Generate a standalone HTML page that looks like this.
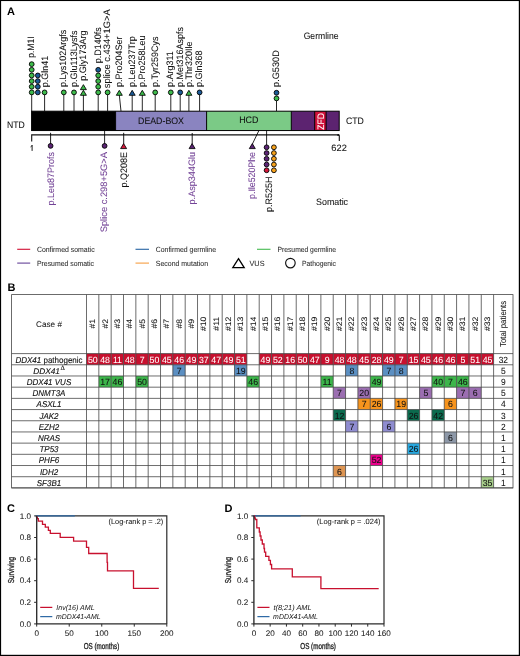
<!DOCTYPE html>
<html><head><meta charset="utf-8"><title>DDX41</title>
<style>
html,body{margin:0;padding:0;background:#fff;}
body{width:520px;height:656px;overflow:hidden;}
svg{display:block;font-family:"Liberation Sans", sans-serif;will-change:transform;} text{stroke-width:0.06px;text-rendering:geometricPrecision;}
</style></head>
<body>
<svg width="520" height="656" viewBox="0 0 520 656">
<rect width="520" height="656" fill="#fff"/>
<rect x="0" y="0" width="520" height="1.05" fill="#000"/>
<rect x="0" y="0" width="1.1" height="656" fill="#000"/>
<rect x="518.8" y="0" width="1.2" height="656" fill="#000"/>
<rect x="0" y="654.8" width="520" height="1.2" fill="#000"/>
<text x="7.0" y="14.8" font-size="11" font-weight="bold" fill="#000">A</text>
<text x="7.6" y="291.2" font-size="11" font-weight="bold" fill="#000">B</text>
<text x="7.0" y="512.2" font-size="11" font-weight="bold" fill="#000">C</text>
<text x="224.5" y="512.2" font-size="11" font-weight="bold" fill="#000">D</text>
<line x1="31.7" y1="93" x2="31.7" y2="111.2" stroke="#000" stroke-width="0.85"/>
<line x1="44.6" y1="93" x2="44.6" y2="111.2" stroke="#000" stroke-width="0.85"/>
<line x1="63.8" y1="93" x2="63.8" y2="111.2" stroke="#000" stroke-width="0.85"/>
<line x1="74" y1="93" x2="74" y2="111.2" stroke="#000" stroke-width="0.85"/>
<line x1="83.4" y1="93" x2="83.4" y2="111.2" stroke="#000" stroke-width="0.85"/>
<line x1="98.2" y1="93" x2="98.2" y2="111.2" stroke="#000" stroke-width="0.85"/>
<line x1="107.6" y1="93" x2="107.6" y2="111.2" stroke="#000" stroke-width="0.85"/>
<line x1="155.2" y1="93" x2="155.2" y2="111.2" stroke="#000" stroke-width="0.85"/>
<line x1="170.8" y1="93" x2="170.8" y2="111.2" stroke="#000" stroke-width="0.85"/>
<line x1="180.2" y1="93" x2="180.2" y2="111.2" stroke="#000" stroke-width="0.85"/>
<line x1="188.9" y1="93" x2="188.9" y2="111.2" stroke="#000" stroke-width="0.85"/>
<line x1="199.6" y1="93" x2="199.6" y2="111.2" stroke="#000" stroke-width="0.85"/>
<line x1="132.2" y1="93" x2="132.2" y2="111.2" stroke="#000" stroke-width="0.85"/>
<line x1="142.3" y1="93" x2="142.3" y2="111.2" stroke="#000" stroke-width="0.85"/>
<line x1="119.3" y1="95" x2="121" y2="111.2" stroke="#000" stroke-width="0.85"/>
<line x1="276.5" y1="99" x2="276.5" y2="111.2" stroke="#000" stroke-width="0.85"/>
<circle cx="31.7" cy="92.4" r="2.4" fill="#3dbb4b" stroke="#000" stroke-width="0.9"/>
<circle cx="31.7" cy="86.75" r="2.4" fill="#3dbb4b" stroke="#000" stroke-width="0.9"/>
<circle cx="31.7" cy="81.1" r="2.4" fill="#3dbb4b" stroke="#000" stroke-width="0.9"/>
<circle cx="31.7" cy="75.45" r="2.4" fill="#3dbb4b" stroke="#000" stroke-width="0.9"/>
<circle cx="31.7" cy="69.8" r="2.4" fill="#3dbb4b" stroke="#000" stroke-width="0.9"/>
<circle cx="31.7" cy="64.15" r="2.4" fill="#3dbb4b" stroke="#000" stroke-width="0.9"/>
<circle cx="37.8" cy="92.4" r="2.4" fill="#1b5a96" stroke="#000" stroke-width="0.9"/>
<circle cx="37.8" cy="86.75" r="2.4" fill="#1b5a96" stroke="#000" stroke-width="0.9"/>
<circle cx="37.8" cy="81.1" r="2.4" fill="#1b5a96" stroke="#000" stroke-width="0.9"/>
<circle cx="37.8" cy="75.45" r="2.4" fill="#1b5a96" stroke="#000" stroke-width="0.9"/>
<circle cx="44.6" cy="92.4" r="2.4" fill="#3dbb4b" stroke="#000" stroke-width="0.9"/>
<circle cx="63.8" cy="92.4" r="2.4" fill="#3dbb4b" stroke="#000" stroke-width="0.9"/>
<circle cx="74" cy="92.4" r="2.4" fill="#3dbb4b" stroke="#000" stroke-width="0.9"/>
<path d="M83.4 90.3L86.4 95.3L80.4 95.3Z" fill="#3dbb4b" stroke="#000" stroke-width="0.85" stroke-linejoin="miter"/>
<path d="M83.4 84.65L86.4 89.65L80.4 89.65Z" fill="#3dbb4b" stroke="#000" stroke-width="0.85" stroke-linejoin="miter"/>
<circle cx="98.2" cy="92.4" r="2.4" fill="#3dbb4b" stroke="#000" stroke-width="0.9"/>
<circle cx="98.2" cy="86.75" r="2.4" fill="#3dbb4b" stroke="#000" stroke-width="0.9"/>
<circle cx="98.2" cy="81.1" r="2.4" fill="#3dbb4b" stroke="#000" stroke-width="0.9"/>
<circle cx="98.2" cy="75.45" r="2.4" fill="#3dbb4b" stroke="#000" stroke-width="0.9"/>
<circle cx="98.2" cy="69.8" r="2.4" fill="#1b5a96" stroke="#000" stroke-width="0.9"/>
<circle cx="107.6" cy="92.4" r="2.4" fill="#3dbb4b" stroke="#000" stroke-width="0.9"/>
<path d="M119.3 90.3L122.3 95.3L116.3 95.3Z" fill="#3dbb4b" stroke="#000" stroke-width="0.85" stroke-linejoin="miter"/>
<path d="M132.2 90.3L135.2 95.3L129.2 95.3Z" fill="#1b5a96" stroke="#000" stroke-width="0.85" stroke-linejoin="miter"/>
<path d="M142.3 90.3L145.3 95.3L139.3 95.3Z" fill="#3dbb4b" stroke="#000" stroke-width="0.85" stroke-linejoin="miter"/>
<circle cx="155.2" cy="92.4" r="2.4" fill="#3dbb4b" stroke="#000" stroke-width="0.9"/>
<circle cx="170.8" cy="92.4" r="2.4" fill="#3dbb4b" stroke="#000" stroke-width="0.9"/>
<circle cx="180.2" cy="92.4" r="2.4" fill="#1b5a96" stroke="#000" stroke-width="0.9"/>
<path d="M188.9 90.3L191.9 95.3L185.9 95.3Z" fill="#3dbb4b" stroke="#000" stroke-width="0.85" stroke-linejoin="miter"/>
<circle cx="199.6" cy="92.4" r="2.4" fill="#1b5a96" stroke="#000" stroke-width="0.9"/>
<circle cx="276.5" cy="98.4" r="2.4" fill="#3dbb4b" stroke="#000" stroke-width="0.9"/>
<circle cx="276.5" cy="92.75" r="2.4" fill="#1b5a96" stroke="#000" stroke-width="0.9"/>
<text transform="translate(34.25 57.8) rotate(-90) scale(0.9096 1)" text-anchor="start" font-size="9.4" fill="#111" stroke="#111">p.M1I</text>
<text transform="translate(48.05 87.3) rotate(-90) scale(0.9574 1)" text-anchor="start" font-size="9.4" fill="#111" stroke="#111">p.Gln41</text>
<text transform="translate(66.45 86.9) rotate(-90) scale(0.9574 1)" text-anchor="start" font-size="9.4" fill="#111" stroke="#111">p.Lys102Argfs</text>
<text transform="translate(76.75 86.9) rotate(-90) scale(0.9574 1)" text-anchor="start" font-size="9.4" fill="#111" stroke="#111">p.Glu113Lysfs</text>
<text transform="translate(86.05 80.8) rotate(-90) scale(0.9670 1)" text-anchor="start" font-size="9.4" fill="#111" stroke="#111">p.Gly173Arg</text>
<text transform="translate(100.85 63.3) rotate(-90) scale(0.9574 1)" text-anchor="start" font-size="9.4" fill="#111" stroke="#111">p.D140fs</text>
<text transform="translate(110.25 88.2) rotate(-90) scale(0.9957 1)" text-anchor="start" font-size="9.4" fill="#111" stroke="#111">splice c.434+1G&gt;A</text>
<text transform="translate(121.85 86.9) rotate(-90) scale(0.9574 1)" text-anchor="start" font-size="9.4" fill="#111" stroke="#111">p.Pro204Ser</text>
<text transform="translate(134.85 86.9) rotate(-90) scale(0.9574 1)" text-anchor="start" font-size="9.4" fill="#111" stroke="#111">p.Leu237Trp</text>
<text transform="translate(144.95 86.9) rotate(-90) scale(0.9574 1)" text-anchor="start" font-size="9.4" fill="#111" stroke="#111">p.Pro258Leu</text>
<text transform="translate(157.85 86.9) rotate(-90) scale(0.9574 1)" text-anchor="start" font-size="9.4" fill="#111" stroke="#111">p.Tyr259Cys</text>
<text transform="translate(173.45 86.9) rotate(-90) scale(0.9574 1)" text-anchor="start" font-size="9.4" fill="#111" stroke="#111">p.Arg311</text>
<text transform="translate(182.85 86.9) rotate(-90) scale(0.9574 1)" text-anchor="start" font-size="9.4" fill="#111" stroke="#111">p.Met316Aspfs</text>
<text transform="translate(191.55 86.9) rotate(-90) scale(0.9574 1)" text-anchor="start" font-size="9.4" fill="#111" stroke="#111">p.Thr320Ile</text>
<text transform="translate(202.25 86.9) rotate(-90) scale(0.9574 1)" text-anchor="start" font-size="9.4" fill="#111" stroke="#111">p.Gln368</text>
<text transform="translate(279.15 86.9) rotate(-90) scale(0.9766 1)" text-anchor="start" font-size="9.4" fill="#111" stroke="#111">p.G530D</text>
<text transform="translate(303.7 38.6) scale(0.9152 1)" text-anchor="start" font-size="9.4" fill="#111" stroke="#111">Germline</text>
<rect x="31.6" y="111.2" width="84" height="19.35000000000001" fill="#000"/>
<rect x="115.6" y="111.2" width="91.0" height="19.35000000000001" fill="#8a84c0"/>
<rect x="206.6" y="111.2" width="84.7" height="19.35000000000001" fill="#7bca86"/>
<rect x="291.3" y="111.2" width="47.9" height="19.35000000000001" fill="#5c2370"/>
<rect x="314.7" y="111.2" width="11.4" height="19.35000000000001" fill="#d0103a"/>
<rect x="31.6" y="111.2" width="307.6" height="19.35" fill="none" stroke="#000" stroke-width="1"/>
<line x1="115.6" y1="111.2" x2="115.6" y2="130.55" stroke="#000" stroke-width="1"/>
<line x1="206.6" y1="111.2" x2="206.6" y2="130.55" stroke="#000" stroke-width="1"/>
<line x1="291.3" y1="111.2" x2="291.3" y2="130.55" stroke="#000" stroke-width="1"/>
<line x1="314.7" y1="111.2" x2="314.7" y2="130.55" stroke="#000" stroke-width="1"/>
<line x1="326.1" y1="111.2" x2="326.1" y2="130.55" stroke="#000" stroke-width="1"/>
<text transform="translate(161 123.6) scale(0.9369 1)" text-anchor="middle" font-size="9.4" fill="#111" stroke="#111">DEAD-BOX</text>
<text transform="translate(248.8 123.4) scale(0.9526 1)" text-anchor="middle" font-size="9.4" fill="#111" stroke="#111">HCD</text>
<text transform="translate(323.7 121.5) rotate(-90) scale(0.9085 1)" text-anchor="middle" font-size="9.4" fill="#fff" stroke="#fff">ZFD</text>
<text transform="translate(6.9 127.7) scale(0.9214 1)" text-anchor="start" font-size="9.4" fill="#111" stroke="#111">NTD</text>
<text transform="translate(345.9 124.2) scale(0.9266 1)" text-anchor="start" font-size="9.4" fill="#111" stroke="#111">CTD</text>
<path d="M31.7 141.5V134.9H338.4Q339.3 134.9 339.3 135.8V141" fill="none" stroke="#111" stroke-width="1.1"/>
<circle cx="338.2" cy="135.1" r="1.0" fill="#111"/>
<path d="M30.6 146.9Q31.7 146.5 32.1 145.2V150.9" fill="none" stroke="#111" stroke-width="0.95"/>
<text transform="translate(339.1 151) scale(0.9883 1)" text-anchor="middle" font-size="9.4" fill="#111" stroke="#111">622</text>
<path d="M50.6 133.2V144M123.7 133.2V144M192.2 133.4V144" stroke="#000" stroke-width="0.9" stroke-linecap="round" fill="none"/>
<line x1="104.6" y1="130.55" x2="104.6" y2="144" stroke="#000" stroke-width="0.85"/>
<line x1="258.9" y1="130.55" x2="252.4" y2="144" stroke="#000" stroke-width="0.85"/>
<line x1="266.6" y1="130.55" x2="266.6" y2="146" stroke="#000" stroke-width="0.85"/>
<circle cx="50.6" cy="145.9" r="2.4" fill="#5b2474" stroke="#000" stroke-width="0.9"/>
<circle cx="104.6" cy="145.9" r="2.4" fill="#5b2474" stroke="#000" stroke-width="0.9"/>
<path d="M123.6 143.6L126.6 148.6L120.6 148.6Z" fill="#d3173a" stroke="#000" stroke-width="0.85" stroke-linejoin="miter"/>
<path d="M192.1 143.6L195.1 148.6L189.1 148.6Z" fill="#5b2474" stroke="#000" stroke-width="0.85" stroke-linejoin="miter"/>
<path d="M252.3 143.6L255.3 148.6L249.3 148.6Z" fill="#5b2474" stroke="#000" stroke-width="0.85" stroke-linejoin="miter"/>
<circle cx="266.6" cy="147.3" r="2.4" fill="#5b2474" stroke="#000" stroke-width="0.9"/>
<circle cx="273.9" cy="147.3" r="2.4" fill="#f7a21b" stroke="#000" stroke-width="0.9"/>
<circle cx="266.6" cy="153.05" r="2.4" fill="#5b2474" stroke="#000" stroke-width="0.9"/>
<circle cx="273.9" cy="153.05" r="2.4" fill="#f7a21b" stroke="#000" stroke-width="0.9"/>
<circle cx="266.6" cy="158.8" r="2.4" fill="#5b2474" stroke="#000" stroke-width="0.9"/>
<circle cx="273.9" cy="158.8" r="2.4" fill="#f7a21b" stroke="#000" stroke-width="0.9"/>
<circle cx="266.6" cy="164.55" r="2.4" fill="#5b2474" stroke="#000" stroke-width="0.9"/>
<circle cx="273.9" cy="164.55" r="2.4" fill="#f7a21b" stroke="#000" stroke-width="0.9"/>
<circle cx="266.6" cy="170.3" r="2.4" fill="#d3173a" stroke="#000" stroke-width="0.9"/>
<circle cx="273.9" cy="170.3" r="2.4" fill="#f7a21b" stroke="#000" stroke-width="0.9"/>
<text transform="translate(54.45 152) rotate(-90) scale(0.9574 1)" text-anchor="end" font-size="9.4" fill="#744497" stroke="#744497">p.Leu87Profs</text>
<text transform="translate(107.35 152) rotate(-90) scale(0.9938 1)" text-anchor="end" font-size="9.4" fill="#744497" stroke="#744497">Splice c.298+5G&gt;A</text>
<text transform="translate(127.45 152) rotate(-90) scale(0.9574 1)" text-anchor="end" font-size="9.4" fill="#111" stroke="#111">p.Q208E</text>
<text transform="translate(195.05 152) rotate(-90) scale(0.9670 1)" text-anchor="end" font-size="9.4" fill="#744497" stroke="#744497">p.Asp344Glu</text>
<text transform="translate(254.85 152) rotate(-90) scale(0.9383 1)" text-anchor="end" font-size="9.4" fill="#744497" stroke="#744497">p.Ile520Phe</text>
<text transform="translate(271.65 176.6) rotate(-90) scale(0.9574 1)" text-anchor="end" font-size="9.4" fill="#111" stroke="#111">p.R525H</text>
<text transform="translate(316.1 205) scale(0.9424 1)" text-anchor="start" font-size="9.4" fill="#111" stroke="#111">Somatic</text>
<line x1="17.2" y1="249.3" x2="30.2" y2="249.3" stroke="#d3173a" stroke-width="1.15"/>
<line x1="17.2" y1="263.1" x2="30.2" y2="263.1" stroke="#6c4a9c" stroke-width="1.15"/>
<line x1="135.5" y1="249.3" x2="149" y2="249.3" stroke="#2f6aa6" stroke-width="1.15"/>
<line x1="135.5" y1="263.1" x2="149" y2="263.1" stroke="#f7a24a" stroke-width="1.15"/>
<line x1="257" y1="249.3" x2="270.5" y2="249.3" stroke="#4cbd57" stroke-width="1.15"/>
<text transform="translate(36.9 252) scale(0.9229 1)" text-anchor="start" font-size="7.5" fill="#2a2a2a" stroke="#2a2a2a" style="stroke-width:0.06px">Confirmed somatic</text>
<text transform="translate(36.9 265.8) scale(0.9194 1)" text-anchor="start" font-size="7.5" fill="#2a2a2a" stroke="#2a2a2a" style="stroke-width:0.06px">Presumed somatic</text>
<text transform="translate(155.8 252) scale(0.9199 1)" text-anchor="start" font-size="7.5" fill="#2a2a2a" stroke="#2a2a2a" style="stroke-width:0.06px">Confirmed germline</text>
<text transform="translate(155.8 265.8) scale(0.9274 1)" text-anchor="start" font-size="7.5" fill="#2a2a2a" stroke="#2a2a2a" style="stroke-width:0.06px">Second mutation</text>
<text transform="translate(277.5 252) scale(0.8996 1)" text-anchor="start" font-size="7.5" fill="#2a2a2a" stroke="#2a2a2a" style="stroke-width:0.06px">Presumed germline</text>
<path d="M238.5 258.6L244.2 267.6H232.8Z" fill="none" stroke="#000" stroke-width="1.3" stroke-linejoin="miter"/>
<text transform="translate(249.5 265.8) scale(0.9727 1)" text-anchor="start" font-size="7.5" fill="#2a2a2a" stroke="#2a2a2a" style="stroke-width:0.06px">VUS</text>
<circle cx="290.4" cy="263.1" r="4.8" fill="none" stroke="#111" stroke-width="1.15"/>
<text transform="translate(302 265.8) scale(0.9060 1)" text-anchor="start" font-size="7.5" fill="#2a2a2a" stroke="#2a2a2a" style="stroke-width:0.06px">Pathogenic</text>
<rect x="86.5" y="353.6" width="12.34" height="11.19" fill="#c8102e"/>
<rect x="98.84" y="353.6" width="12.34" height="11.19" fill="#c8102e"/>
<rect x="111.17" y="353.6" width="12.34" height="11.19" fill="#c8102e"/>
<rect x="123.51" y="353.6" width="12.34" height="11.19" fill="#c8102e"/>
<rect x="135.85" y="353.6" width="12.34" height="11.19" fill="#c8102e"/>
<rect x="148.18" y="353.6" width="12.34" height="11.19" fill="#c8102e"/>
<rect x="160.52" y="353.6" width="12.34" height="11.19" fill="#c8102e"/>
<rect x="172.85" y="353.6" width="12.34" height="11.19" fill="#c8102e"/>
<rect x="185.19" y="353.6" width="12.34" height="11.19" fill="#c8102e"/>
<rect x="197.53" y="353.6" width="12.34" height="11.19" fill="#c8102e"/>
<rect x="209.86" y="353.6" width="12.34" height="11.19" fill="#c8102e"/>
<rect x="222.2" y="353.6" width="12.34" height="11.19" fill="#c8102e"/>
<rect x="234.54" y="353.6" width="12.34" height="11.19" fill="#c8102e"/>
<rect x="259.21" y="353.6" width="12.34" height="11.19" fill="#c8102e"/>
<rect x="271.55" y="353.6" width="12.34" height="11.19" fill="#c8102e"/>
<rect x="283.88" y="353.6" width="12.34" height="11.19" fill="#c8102e"/>
<rect x="296.22" y="353.6" width="12.34" height="11.19" fill="#c8102e"/>
<rect x="308.55" y="353.6" width="12.34" height="11.19" fill="#c8102e"/>
<rect x="320.89" y="353.6" width="12.34" height="11.19" fill="#c8102e"/>
<rect x="333.23" y="353.6" width="12.34" height="11.19" fill="#c8102e"/>
<rect x="345.56" y="353.6" width="12.34" height="11.19" fill="#c8102e"/>
<rect x="357.9" y="353.6" width="12.34" height="11.19" fill="#c8102e"/>
<rect x="370.24" y="353.6" width="12.34" height="11.19" fill="#c8102e"/>
<rect x="382.57" y="353.6" width="12.34" height="11.19" fill="#c8102e"/>
<rect x="394.91" y="353.6" width="12.34" height="11.19" fill="#c8102e"/>
<rect x="407.25" y="353.6" width="12.34" height="11.19" fill="#c8102e"/>
<rect x="419.58" y="353.6" width="12.34" height="11.19" fill="#c8102e"/>
<rect x="431.92" y="353.6" width="12.34" height="11.19" fill="#c8102e"/>
<rect x="444.25" y="353.6" width="12.34" height="11.19" fill="#c8102e"/>
<rect x="456.59" y="353.6" width="12.34" height="11.19" fill="#c8102e"/>
<rect x="468.93" y="353.6" width="12.34" height="11.19" fill="#c8102e"/>
<rect x="481.26" y="353.6" width="12.34" height="11.19" fill="#c8102e"/>
<rect x="172.85" y="364.79" width="12.34" height="11.19" fill="#5b8fc2"/>
<rect x="234.54" y="364.79" width="12.34" height="11.19" fill="#5b8fc2"/>
<rect x="345.56" y="364.79" width="12.34" height="11.19" fill="#5b8fc2"/>
<rect x="382.57" y="364.79" width="12.34" height="11.19" fill="#5b8fc2"/>
<rect x="394.91" y="364.79" width="12.34" height="11.19" fill="#5b8fc2"/>
<rect x="98.84" y="375.98" width="12.34" height="11.19" fill="#3cb54a"/>
<rect x="111.17" y="375.98" width="12.34" height="11.19" fill="#3cb54a"/>
<rect x="135.85" y="375.98" width="12.34" height="11.19" fill="#3cb54a"/>
<rect x="246.87" y="375.98" width="12.34" height="11.19" fill="#3cb54a"/>
<rect x="320.89" y="375.98" width="12.34" height="11.19" fill="#3cb54a"/>
<rect x="370.24" y="375.98" width="12.34" height="11.19" fill="#3cb54a"/>
<rect x="431.92" y="375.98" width="12.34" height="11.19" fill="#3cb54a"/>
<rect x="444.25" y="375.98" width="12.34" height="11.19" fill="#3cb54a"/>
<rect x="456.59" y="375.98" width="12.34" height="11.19" fill="#3cb54a"/>
<rect x="333.23" y="387.18" width="12.34" height="11.19" fill="#9b6eb1"/>
<rect x="357.9" y="387.18" width="12.34" height="11.19" fill="#9b6eb1"/>
<rect x="419.58" y="387.18" width="12.34" height="11.19" fill="#9b6eb1"/>
<rect x="456.59" y="387.18" width="12.34" height="11.19" fill="#9b6eb1"/>
<rect x="468.93" y="387.18" width="12.34" height="11.19" fill="#9b6eb1"/>
<rect x="357.9" y="398.37" width="12.34" height="11.19" fill="#f7941d"/>
<rect x="370.24" y="398.37" width="12.34" height="11.19" fill="#f7941d"/>
<rect x="394.91" y="398.37" width="12.34" height="11.19" fill="#f7941d"/>
<rect x="444.25" y="398.37" width="12.34" height="11.19" fill="#f7941d"/>
<rect x="333.23" y="409.56" width="12.34" height="11.19" fill="#0b6b4e"/>
<rect x="407.25" y="409.56" width="12.34" height="11.19" fill="#0b6b4e"/>
<rect x="431.92" y="409.56" width="12.34" height="11.19" fill="#0b6b4e"/>
<rect x="345.56" y="420.75" width="12.34" height="11.19" fill="#8f8cd0"/>
<rect x="382.57" y="420.75" width="12.34" height="11.19" fill="#8f8cd0"/>
<rect x="444.25" y="431.94" width="12.34" height="11.19" fill="#8d98a8"/>
<rect x="407.25" y="443.13" width="12.34" height="11.19" fill="#27a8e0"/>
<rect x="370.24" y="454.32" width="12.34" height="11.19" fill="#ec008c"/>
<rect x="333.23" y="465.52" width="12.34" height="11.19" fill="#de9552"/>
<rect x="481.26" y="476.71" width="12.34" height="11.19" fill="#a8cf8c"/>
<line x1="11.6" y1="353.6" x2="513" y2="353.6" stroke="#484848" stroke-width="0.8"/>
<line x1="11.6" y1="364.79" x2="513" y2="364.79" stroke="#484848" stroke-width="0.8"/>
<line x1="11.6" y1="375.98" x2="513" y2="375.98" stroke="#484848" stroke-width="0.8"/>
<line x1="11.6" y1="387.18" x2="513" y2="387.18" stroke="#484848" stroke-width="0.8"/>
<line x1="11.6" y1="398.37" x2="513" y2="398.37" stroke="#484848" stroke-width="0.8"/>
<line x1="11.6" y1="409.56" x2="513" y2="409.56" stroke="#484848" stroke-width="0.8"/>
<line x1="11.6" y1="420.75" x2="513" y2="420.75" stroke="#484848" stroke-width="0.8"/>
<line x1="11.6" y1="431.94" x2="513" y2="431.94" stroke="#484848" stroke-width="0.8"/>
<line x1="11.6" y1="443.13" x2="513" y2="443.13" stroke="#484848" stroke-width="0.8"/>
<line x1="11.6" y1="454.32" x2="513" y2="454.32" stroke="#484848" stroke-width="0.8"/>
<line x1="11.6" y1="465.52" x2="513" y2="465.52" stroke="#484848" stroke-width="0.8"/>
<line x1="11.6" y1="476.71" x2="513" y2="476.71" stroke="#484848" stroke-width="0.8"/>
<line x1="11.6" y1="487.9" x2="513" y2="487.9" stroke="#484848" stroke-width="0.8"/>
<line x1="86.5" y1="294.6" x2="86.5" y2="487.9" stroke="#484848" stroke-width="0.8"/>
<line x1="98.84" y1="294.6" x2="98.84" y2="487.9" stroke="#484848" stroke-width="0.8"/>
<line x1="111.17" y1="294.6" x2="111.17" y2="487.9" stroke="#484848" stroke-width="0.8"/>
<line x1="123.51" y1="294.6" x2="123.51" y2="487.9" stroke="#484848" stroke-width="0.8"/>
<line x1="135.85" y1="294.6" x2="135.85" y2="487.9" stroke="#484848" stroke-width="0.8"/>
<line x1="148.18" y1="294.6" x2="148.18" y2="487.9" stroke="#484848" stroke-width="0.8"/>
<line x1="160.52" y1="294.6" x2="160.52" y2="487.9" stroke="#484848" stroke-width="0.8"/>
<line x1="172.85" y1="294.6" x2="172.85" y2="487.9" stroke="#484848" stroke-width="0.8"/>
<line x1="185.19" y1="294.6" x2="185.19" y2="487.9" stroke="#484848" stroke-width="0.8"/>
<line x1="197.53" y1="294.6" x2="197.53" y2="487.9" stroke="#484848" stroke-width="0.8"/>
<line x1="209.86" y1="294.6" x2="209.86" y2="487.9" stroke="#484848" stroke-width="0.8"/>
<line x1="222.2" y1="294.6" x2="222.2" y2="487.9" stroke="#484848" stroke-width="0.8"/>
<line x1="234.54" y1="294.6" x2="234.54" y2="487.9" stroke="#484848" stroke-width="0.8"/>
<line x1="246.87" y1="294.6" x2="246.87" y2="487.9" stroke="#484848" stroke-width="0.8"/>
<line x1="259.21" y1="294.6" x2="259.21" y2="487.9" stroke="#484848" stroke-width="0.8"/>
<line x1="271.55" y1="294.6" x2="271.55" y2="487.9" stroke="#484848" stroke-width="0.8"/>
<line x1="283.88" y1="294.6" x2="283.88" y2="487.9" stroke="#484848" stroke-width="0.8"/>
<line x1="296.22" y1="294.6" x2="296.22" y2="487.9" stroke="#484848" stroke-width="0.8"/>
<line x1="308.55" y1="294.6" x2="308.55" y2="487.9" stroke="#484848" stroke-width="0.8"/>
<line x1="320.89" y1="294.6" x2="320.89" y2="487.9" stroke="#484848" stroke-width="0.8"/>
<line x1="333.23" y1="294.6" x2="333.23" y2="487.9" stroke="#484848" stroke-width="0.8"/>
<line x1="345.56" y1="294.6" x2="345.56" y2="487.9" stroke="#484848" stroke-width="0.8"/>
<line x1="357.9" y1="294.6" x2="357.9" y2="487.9" stroke="#484848" stroke-width="0.8"/>
<line x1="370.24" y1="294.6" x2="370.24" y2="487.9" stroke="#484848" stroke-width="0.8"/>
<line x1="382.57" y1="294.6" x2="382.57" y2="487.9" stroke="#484848" stroke-width="0.8"/>
<line x1="394.91" y1="294.6" x2="394.91" y2="487.9" stroke="#484848" stroke-width="0.8"/>
<line x1="407.25" y1="294.6" x2="407.25" y2="487.9" stroke="#484848" stroke-width="0.8"/>
<line x1="419.58" y1="294.6" x2="419.58" y2="487.9" stroke="#484848" stroke-width="0.8"/>
<line x1="431.92" y1="294.6" x2="431.92" y2="487.9" stroke="#484848" stroke-width="0.8"/>
<line x1="444.25" y1="294.6" x2="444.25" y2="487.9" stroke="#484848" stroke-width="0.8"/>
<line x1="456.59" y1="294.6" x2="456.59" y2="487.9" stroke="#484848" stroke-width="0.8"/>
<line x1="468.93" y1="294.6" x2="468.93" y2="487.9" stroke="#484848" stroke-width="0.8"/>
<line x1="481.26" y1="294.6" x2="481.26" y2="487.9" stroke="#484848" stroke-width="0.8"/>
<line x1="493.6" y1="294.6" x2="493.6" y2="487.9" stroke="#484848" stroke-width="0.8"/>
<rect x="11.6" y="294.6" width="501.4" height="193.3" fill="none" stroke="#484848" stroke-width="0.8"/>
<text transform="translate(49 362.6) scale(0.9412 1)" text-anchor="middle" font-size="8.5" fill="#111" stroke="#111" style="stroke-width:0.12px"><tspan font-style="italic">DDX41</tspan> pathogenic</text>
<text transform="translate(92.77 362.6) scale(0.9722 1)" text-anchor="middle" font-size="9.0" fill="#fff" stroke="#fff">50</text>
<text transform="translate(105.1 362.6) scale(0.9722 1)" text-anchor="middle" font-size="9.0" fill="#fff" stroke="#fff">48</text>
<text transform="translate(117.44 362.6) scale(0.9722 1)" text-anchor="middle" font-size="9.0" fill="#fff" stroke="#fff">11</text>
<text transform="translate(129.78 362.6) scale(0.9722 1)" text-anchor="middle" font-size="9.0" fill="#fff" stroke="#fff">48</text>
<text transform="translate(142.11 362.6) scale(0.9722 1)" text-anchor="middle" font-size="9.0" fill="#fff" stroke="#fff">7</text>
<text transform="translate(154.45 362.6) scale(0.9722 1)" text-anchor="middle" font-size="9.0" fill="#fff" stroke="#fff">50</text>
<text transform="translate(166.79 362.6) scale(0.9722 1)" text-anchor="middle" font-size="9.0" fill="#fff" stroke="#fff">45</text>
<text transform="translate(179.12 362.6) scale(0.9722 1)" text-anchor="middle" font-size="9.0" fill="#fff" stroke="#fff">46</text>
<text transform="translate(191.46 362.6) scale(0.9722 1)" text-anchor="middle" font-size="9.0" fill="#fff" stroke="#fff">49</text>
<text transform="translate(203.8 362.6) scale(0.9722 1)" text-anchor="middle" font-size="9.0" fill="#fff" stroke="#fff">37</text>
<text transform="translate(216.13 362.6) scale(0.9722 1)" text-anchor="middle" font-size="9.0" fill="#fff" stroke="#fff">47</text>
<text transform="translate(228.47 362.6) scale(0.9722 1)" text-anchor="middle" font-size="9.0" fill="#fff" stroke="#fff">49</text>
<text transform="translate(240.8 362.6) scale(0.9722 1)" text-anchor="middle" font-size="9.0" fill="#fff" stroke="#fff">51</text>
<text transform="translate(265.48 362.6) scale(0.9722 1)" text-anchor="middle" font-size="9.0" fill="#fff" stroke="#fff">49</text>
<text transform="translate(277.81 362.6) scale(0.9722 1)" text-anchor="middle" font-size="9.0" fill="#fff" stroke="#fff">52</text>
<text transform="translate(290.15 362.6) scale(0.9722 1)" text-anchor="middle" font-size="9.0" fill="#fff" stroke="#fff">16</text>
<text transform="translate(302.49 362.6) scale(0.9722 1)" text-anchor="middle" font-size="9.0" fill="#fff" stroke="#fff">50</text>
<text transform="translate(314.82 362.6) scale(0.9722 1)" text-anchor="middle" font-size="9.0" fill="#fff" stroke="#fff">47</text>
<text transform="translate(327.16 362.6) scale(0.9722 1)" text-anchor="middle" font-size="9.0" fill="#fff" stroke="#fff">9</text>
<text transform="translate(339.5 362.6) scale(0.9722 1)" text-anchor="middle" font-size="9.0" fill="#fff" stroke="#fff">48</text>
<text transform="translate(351.83 362.6) scale(0.9722 1)" text-anchor="middle" font-size="9.0" fill="#fff" stroke="#fff">48</text>
<text transform="translate(364.17 362.6) scale(0.9722 1)" text-anchor="middle" font-size="9.0" fill="#fff" stroke="#fff">45</text>
<text transform="translate(376.5 362.6) scale(0.9722 1)" text-anchor="middle" font-size="9.0" fill="#fff" stroke="#fff">28</text>
<text transform="translate(388.84 362.6) scale(0.9722 1)" text-anchor="middle" font-size="9.0" fill="#fff" stroke="#fff">49</text>
<text transform="translate(401.18 362.6) scale(0.9722 1)" text-anchor="middle" font-size="9.0" fill="#fff" stroke="#fff">7</text>
<text transform="translate(413.51 362.6) scale(0.9722 1)" text-anchor="middle" font-size="9.0" fill="#fff" stroke="#fff">15</text>
<text transform="translate(425.85 362.6) scale(0.9722 1)" text-anchor="middle" font-size="9.0" fill="#fff" stroke="#fff">45</text>
<text transform="translate(438.19 362.6) scale(0.9722 1)" text-anchor="middle" font-size="9.0" fill="#fff" stroke="#fff">46</text>
<text transform="translate(450.52 362.6) scale(0.9722 1)" text-anchor="middle" font-size="9.0" fill="#fff" stroke="#fff">46</text>
<text transform="translate(462.86 362.6) scale(0.9722 1)" text-anchor="middle" font-size="9.0" fill="#fff" stroke="#fff">5</text>
<text transform="translate(475.2 362.6) scale(0.9722 1)" text-anchor="middle" font-size="9.0" fill="#fff" stroke="#fff">51</text>
<text transform="translate(487.53 362.6) scale(0.9722 1)" text-anchor="middle" font-size="9.0" fill="#fff" stroke="#fff">45</text>
<text transform="translate(503.3 362.6) scale(0.9333 1)" text-anchor="middle" font-size="9.0" fill="#111" stroke="#111">32</text>
<text x="49" y="373.79" text-anchor="middle" font-size="8.3" fill="#111" stroke="#111" style="stroke-width:0.12px"><tspan font-style="italic">DDX41</tspan><tspan font-size="6.8" dy="-4.0" dx="0.5" font-family="Liberation Serif" font-style="normal">&#916;</tspan></text>
<text transform="translate(179.12 373.79) scale(0.9722 1)" text-anchor="middle" font-size="9.0" fill="#111" stroke="#111">7</text>
<text transform="translate(240.8 373.79) scale(0.9722 1)" text-anchor="middle" font-size="9.0" fill="#111" stroke="#111">19</text>
<text transform="translate(351.83 373.79) scale(0.9722 1)" text-anchor="middle" font-size="9.0" fill="#111" stroke="#111">8</text>
<text transform="translate(388.84 373.79) scale(0.9722 1)" text-anchor="middle" font-size="9.0" fill="#111" stroke="#111">7</text>
<text transform="translate(401.18 373.79) scale(0.9722 1)" text-anchor="middle" font-size="9.0" fill="#111" stroke="#111">8</text>
<text transform="translate(503.3 373.79) scale(0.9333 1)" text-anchor="middle" font-size="9.0" fill="#111" stroke="#111">5</text>
<text transform="translate(49 384.98) scale(0.9412 1)" text-anchor="middle" font-size="8.5" fill="#111" stroke="#111" style="stroke-width:0.12px"><tspan font-style="italic">DDX41 VUS</tspan></text>
<text transform="translate(105.1 384.98) scale(0.9722 1)" text-anchor="middle" font-size="9.0" fill="#111" stroke="#111">17</text>
<text transform="translate(117.44 384.98) scale(0.9722 1)" text-anchor="middle" font-size="9.0" fill="#111" stroke="#111">46</text>
<text transform="translate(142.11 384.98) scale(0.9722 1)" text-anchor="middle" font-size="9.0" fill="#111" stroke="#111">50</text>
<text transform="translate(253.14 384.98) scale(0.9722 1)" text-anchor="middle" font-size="9.0" fill="#111" stroke="#111">46</text>
<text transform="translate(327.16 384.98) scale(0.9722 1)" text-anchor="middle" font-size="9.0" fill="#111" stroke="#111">11</text>
<text transform="translate(376.5 384.98) scale(0.9722 1)" text-anchor="middle" font-size="9.0" fill="#111" stroke="#111">49</text>
<text transform="translate(438.19 384.98) scale(0.9722 1)" text-anchor="middle" font-size="9.0" fill="#111" stroke="#111">40</text>
<text transform="translate(450.52 384.98) scale(0.9722 1)" text-anchor="middle" font-size="9.0" fill="#111" stroke="#111">7</text>
<text transform="translate(462.86 384.98) scale(0.9722 1)" text-anchor="middle" font-size="9.0" fill="#111" stroke="#111">46</text>
<text transform="translate(503.3 384.98) scale(0.9333 1)" text-anchor="middle" font-size="9.0" fill="#111" stroke="#111">9</text>
<text transform="translate(49 396.17) scale(0.9412 1)" text-anchor="middle" font-size="8.5" fill="#111" stroke="#111" style="stroke-width:0.12px"><tspan font-style="italic">DNMT3A</tspan></text>
<text transform="translate(339.5 396.17) scale(0.9722 1)" text-anchor="middle" font-size="9.0" fill="#111" stroke="#111">7</text>
<text transform="translate(364.17 396.17) scale(0.9722 1)" text-anchor="middle" font-size="9.0" fill="#111" stroke="#111">20</text>
<text transform="translate(425.85 396.17) scale(0.9722 1)" text-anchor="middle" font-size="9.0" fill="#111" stroke="#111">5</text>
<text transform="translate(462.86 396.17) scale(0.9722 1)" text-anchor="middle" font-size="9.0" fill="#111" stroke="#111">7</text>
<text transform="translate(475.2 396.17) scale(0.9722 1)" text-anchor="middle" font-size="9.0" fill="#111" stroke="#111">6</text>
<text transform="translate(503.3 396.17) scale(0.9333 1)" text-anchor="middle" font-size="9.0" fill="#111" stroke="#111">5</text>
<text transform="translate(49 407.36) scale(0.9412 1)" text-anchor="middle" font-size="8.5" fill="#111" stroke="#111" style="stroke-width:0.12px"><tspan font-style="italic">ASXL1</tspan></text>
<text transform="translate(364.17 407.36) scale(0.9722 1)" text-anchor="middle" font-size="9.0" fill="#111" stroke="#111">7</text>
<text transform="translate(376.5 407.36) scale(0.9722 1)" text-anchor="middle" font-size="9.0" fill="#111" stroke="#111">26</text>
<text transform="translate(401.18 407.36) scale(0.9722 1)" text-anchor="middle" font-size="9.0" fill="#111" stroke="#111">19</text>
<text transform="translate(450.52 407.36) scale(0.9722 1)" text-anchor="middle" font-size="9.0" fill="#111" stroke="#111">6</text>
<text transform="translate(503.3 407.36) scale(0.9333 1)" text-anchor="middle" font-size="9.0" fill="#111" stroke="#111">4</text>
<text transform="translate(49 418.55) scale(0.9412 1)" text-anchor="middle" font-size="8.5" fill="#111" stroke="#111" style="stroke-width:0.12px"><tspan font-style="italic">JAK2</tspan></text>
<text transform="translate(339.5 418.55) scale(0.9722 1)" text-anchor="middle" font-size="9.0" fill="#111" stroke="#111">12</text>
<text transform="translate(413.51 418.55) scale(0.9722 1)" text-anchor="middle" font-size="9.0" fill="#111" stroke="#111">26</text>
<text transform="translate(438.19 418.55) scale(0.9722 1)" text-anchor="middle" font-size="9.0" fill="#111" stroke="#111">42</text>
<text transform="translate(503.3 418.55) scale(0.9333 1)" text-anchor="middle" font-size="9.0" fill="#111" stroke="#111">3</text>
<text transform="translate(49 429.75) scale(0.9412 1)" text-anchor="middle" font-size="8.5" fill="#111" stroke="#111" style="stroke-width:0.12px"><tspan font-style="italic">EZH2</tspan></text>
<text transform="translate(351.83 429.75) scale(0.9722 1)" text-anchor="middle" font-size="9.0" fill="#111" stroke="#111">7</text>
<text transform="translate(388.84 429.75) scale(0.9722 1)" text-anchor="middle" font-size="9.0" fill="#111" stroke="#111">6</text>
<text transform="translate(503.3 429.75) scale(0.9333 1)" text-anchor="middle" font-size="9.0" fill="#111" stroke="#111">2</text>
<text transform="translate(49 440.94) scale(0.9412 1)" text-anchor="middle" font-size="8.5" fill="#111" stroke="#111" style="stroke-width:0.12px"><tspan font-style="italic">NRAS</tspan></text>
<text transform="translate(450.52 440.94) scale(0.9722 1)" text-anchor="middle" font-size="9.0" fill="#111" stroke="#111">6</text>
<text transform="translate(503.3 440.94) scale(0.9333 1)" text-anchor="middle" font-size="9.0" fill="#111" stroke="#111">1</text>
<text transform="translate(49 452.13) scale(0.9412 1)" text-anchor="middle" font-size="8.5" fill="#111" stroke="#111" style="stroke-width:0.12px"><tspan font-style="italic">TP53</tspan></text>
<text transform="translate(413.51 452.13) scale(0.9722 1)" text-anchor="middle" font-size="9.0" fill="#111" stroke="#111">26</text>
<text transform="translate(503.3 452.13) scale(0.9333 1)" text-anchor="middle" font-size="9.0" fill="#111" stroke="#111">1</text>
<text transform="translate(49 463.32) scale(0.9412 1)" text-anchor="middle" font-size="8.5" fill="#111" stroke="#111" style="stroke-width:0.12px"><tspan font-style="italic">PHF6</tspan></text>
<text transform="translate(376.5 463.32) scale(0.9722 1)" text-anchor="middle" font-size="9.0" fill="#111" stroke="#111">52</text>
<text transform="translate(503.3 463.32) scale(0.9333 1)" text-anchor="middle" font-size="9.0" fill="#111" stroke="#111">1</text>
<text transform="translate(49 474.51) scale(0.9412 1)" text-anchor="middle" font-size="8.5" fill="#111" stroke="#111" style="stroke-width:0.12px"><tspan font-style="italic">IDH2</tspan></text>
<text transform="translate(339.5 474.51) scale(0.9722 1)" text-anchor="middle" font-size="9.0" fill="#111" stroke="#111">6</text>
<text transform="translate(503.3 474.51) scale(0.9333 1)" text-anchor="middle" font-size="9.0" fill="#111" stroke="#111">1</text>
<text transform="translate(49 485.7) scale(0.9412 1)" text-anchor="middle" font-size="8.5" fill="#111" stroke="#111" style="stroke-width:0.12px"><tspan font-style="italic">SF3B1</tspan></text>
<text transform="translate(487.53 485.7) scale(0.9722 1)" text-anchor="middle" font-size="9.0" fill="#111" stroke="#111">35</text>
<text transform="translate(503.3 485.7) scale(0.9333 1)" text-anchor="middle" font-size="9.0" fill="#111" stroke="#111">1</text>
<text x="49" y="326.6" text-anchor="middle" font-size="8.2" fill="#111" stroke="#111" style="stroke-width:0.03px">Case #</text>
<text transform="translate(95.37 323.8) rotate(-90) scale(1.0750 1)" text-anchor="middle" font-size="8.0" fill="#111" stroke="#111">#1</text>
<text transform="translate(107.7 323.8) rotate(-90) scale(1.0750 1)" text-anchor="middle" font-size="8.0" fill="#111" stroke="#111">#2</text>
<text transform="translate(120.04 323.8) rotate(-90) scale(1.0750 1)" text-anchor="middle" font-size="8.0" fill="#111" stroke="#111">#3</text>
<text transform="translate(132.38 323.8) rotate(-90) scale(1.0750 1)" text-anchor="middle" font-size="8.0" fill="#111" stroke="#111">#4</text>
<text transform="translate(144.71 323.8) rotate(-90) scale(1.0750 1)" text-anchor="middle" font-size="8.0" fill="#111" stroke="#111">#5</text>
<text transform="translate(157.05 323.8) rotate(-90) scale(1.0750 1)" text-anchor="middle" font-size="8.0" fill="#111" stroke="#111">#6</text>
<text transform="translate(169.39 323.8) rotate(-90) scale(1.0750 1)" text-anchor="middle" font-size="8.0" fill="#111" stroke="#111">#7</text>
<text transform="translate(181.72 323.8) rotate(-90) scale(1.0750 1)" text-anchor="middle" font-size="8.0" fill="#111" stroke="#111">#8</text>
<text transform="translate(194.06 323.8) rotate(-90) scale(1.0750 1)" text-anchor="middle" font-size="8.0" fill="#111" stroke="#111">#9</text>
<text transform="translate(206.4 323.8) rotate(-90) scale(1.0750 1)" text-anchor="middle" font-size="8.0" fill="#111" stroke="#111">#10</text>
<text transform="translate(218.73 323.8) rotate(-90) scale(1.0750 1)" text-anchor="middle" font-size="8.0" fill="#111" stroke="#111">#11</text>
<text transform="translate(231.07 323.8) rotate(-90) scale(1.0750 1)" text-anchor="middle" font-size="8.0" fill="#111" stroke="#111">#12</text>
<text transform="translate(243.4 323.8) rotate(-90) scale(1.0750 1)" text-anchor="middle" font-size="8.0" fill="#111" stroke="#111">#13</text>
<text transform="translate(255.74 323.8) rotate(-90) scale(1.0750 1)" text-anchor="middle" font-size="8.0" fill="#111" stroke="#111">#14</text>
<text transform="translate(268.08 323.8) rotate(-90) scale(1.0750 1)" text-anchor="middle" font-size="8.0" fill="#111" stroke="#111">#15</text>
<text transform="translate(280.41 323.8) rotate(-90) scale(1.0750 1)" text-anchor="middle" font-size="8.0" fill="#111" stroke="#111">#16</text>
<text transform="translate(292.75 323.8) rotate(-90) scale(1.0750 1)" text-anchor="middle" font-size="8.0" fill="#111" stroke="#111">#17</text>
<text transform="translate(305.09 323.8) rotate(-90) scale(1.0750 1)" text-anchor="middle" font-size="8.0" fill="#111" stroke="#111">#18</text>
<text transform="translate(317.42 323.8) rotate(-90) scale(1.0750 1)" text-anchor="middle" font-size="8.0" fill="#111" stroke="#111">#19</text>
<text transform="translate(329.76 323.8) rotate(-90) scale(1.0750 1)" text-anchor="middle" font-size="8.0" fill="#111" stroke="#111">#20</text>
<text transform="translate(342.1 323.8) rotate(-90) scale(1.0750 1)" text-anchor="middle" font-size="8.0" fill="#111" stroke="#111">#21</text>
<text transform="translate(354.43 323.8) rotate(-90) scale(1.0750 1)" text-anchor="middle" font-size="8.0" fill="#111" stroke="#111">#22</text>
<text transform="translate(366.77 323.8) rotate(-90) scale(1.0750 1)" text-anchor="middle" font-size="8.0" fill="#111" stroke="#111">#23</text>
<text transform="translate(379.1 323.8) rotate(-90) scale(1.0750 1)" text-anchor="middle" font-size="8.0" fill="#111" stroke="#111">#24</text>
<text transform="translate(391.44 323.8) rotate(-90) scale(1.0750 1)" text-anchor="middle" font-size="8.0" fill="#111" stroke="#111">#25</text>
<text transform="translate(403.78 323.8) rotate(-90) scale(1.0750 1)" text-anchor="middle" font-size="8.0" fill="#111" stroke="#111">#26</text>
<text transform="translate(416.11 323.8) rotate(-90) scale(1.0750 1)" text-anchor="middle" font-size="8.0" fill="#111" stroke="#111">#27</text>
<text transform="translate(428.45 323.8) rotate(-90) scale(1.0750 1)" text-anchor="middle" font-size="8.0" fill="#111" stroke="#111">#28</text>
<text transform="translate(440.79 323.8) rotate(-90) scale(1.0750 1)" text-anchor="middle" font-size="8.0" fill="#111" stroke="#111">#29</text>
<text transform="translate(453.12 323.8) rotate(-90) scale(1.0750 1)" text-anchor="middle" font-size="8.0" fill="#111" stroke="#111">#30</text>
<text transform="translate(465.46 323.8) rotate(-90) scale(1.0750 1)" text-anchor="middle" font-size="8.0" fill="#111" stroke="#111">#31</text>
<text transform="translate(477.8 323.8) rotate(-90) scale(1.0750 1)" text-anchor="middle" font-size="8.0" fill="#111" stroke="#111">#32</text>
<text transform="translate(490.13 323.8) rotate(-90) scale(1.0750 1)" text-anchor="middle" font-size="8.0" fill="#111" stroke="#111">#33</text>
<text transform="translate(506 323.9) rotate(-90) scale(0.9117 1)" text-anchor="middle" font-size="8.6" fill="#111" stroke="#111">Total patients</text>
<path d="M36.7 515.9H166.8V623.9" fill="none" stroke="#2b2b2b" stroke-width="1.2"/>
<line x1="35.5" y1="515.9" x2="74.8" y2="515.9" stroke="#2f6aa6" stroke-width="1.4"/>
<polyline points="36.5,515.9 36.5,517.2 37.3,517.2 37.3,518.6 38.3,518.6 38.3,521.1 42.5,521.1 42.5,524.3 45.3,524.3 45.3,527.2 48.4,527.2 48.4,530.3 50.3,530.3 50.3,533.3 60.2,533.3 60.2,537.4 73.6,537.4 73.6,541.2 86.5,541.2 86.5,547.3 88.7,547.3 88.7,553.5 107.1,553.5 107.1,562.3 107.5,562.3 107.5,570.8 133.5,570.8 133.5,588.3 158.8,588.3" fill="none" stroke="#c8102e" stroke-width="1.3" stroke-linejoin="miter"/>
<path d="M36.7 515.9V623.9H166.8" fill="none" stroke="#2b2b2b" stroke-width="1.35"/>
<line x1="34.1" y1="623.9" x2="36.7" y2="623.9" stroke="#2b2b2b" stroke-width="1.0"/>
<text x="31.1" y="626.55" text-anchor="end" font-size="8.1" fill="#1a1a1a" stroke="#1a1a1a">0.0</text>
<line x1="34.1" y1="602.3" x2="36.7" y2="602.3" stroke="#2b2b2b" stroke-width="1.0"/>
<text x="31.1" y="604.95" text-anchor="end" font-size="8.1" fill="#1a1a1a" stroke="#1a1a1a">0.2</text>
<line x1="34.1" y1="580.7" x2="36.7" y2="580.7" stroke="#2b2b2b" stroke-width="1.0"/>
<text x="31.1" y="583.35" text-anchor="end" font-size="8.1" fill="#1a1a1a" stroke="#1a1a1a">0.4</text>
<line x1="34.1" y1="559.1" x2="36.7" y2="559.1" stroke="#2b2b2b" stroke-width="1.0"/>
<text x="31.1" y="561.75" text-anchor="end" font-size="8.1" fill="#1a1a1a" stroke="#1a1a1a">0.6</text>
<line x1="34.1" y1="537.5" x2="36.7" y2="537.5" stroke="#2b2b2b" stroke-width="1.0"/>
<text x="31.1" y="540.15" text-anchor="end" font-size="8.1" fill="#1a1a1a" stroke="#1a1a1a">0.8</text>
<line x1="34.1" y1="515.9" x2="36.7" y2="515.9" stroke="#2b2b2b" stroke-width="1.0"/>
<text x="31.1" y="518.55" text-anchor="end" font-size="8.1" fill="#1a1a1a" stroke="#1a1a1a">1.0</text>
<line x1="36.7" y1="623.9" x2="36.7" y2="626.6" stroke="#2b2b2b" stroke-width="1.0"/>
<text x="36.7" y="636.1" text-anchor="middle" font-size="8.1" fill="#1a1a1a" stroke="#1a1a1a">0</text>
<line x1="69.23" y1="623.9" x2="69.23" y2="626.6" stroke="#2b2b2b" stroke-width="1.0"/>
<text x="69.23" y="636.1" text-anchor="middle" font-size="8.1" fill="#1a1a1a" stroke="#1a1a1a">50</text>
<line x1="101.75" y1="623.9" x2="101.75" y2="626.6" stroke="#2b2b2b" stroke-width="1.0"/>
<text x="101.75" y="636.1" text-anchor="middle" font-size="8.1" fill="#1a1a1a" stroke="#1a1a1a">100</text>
<line x1="134.28" y1="623.9" x2="134.28" y2="626.6" stroke="#2b2b2b" stroke-width="1.0"/>
<text x="134.28" y="636.1" text-anchor="middle" font-size="8.1" fill="#1a1a1a" stroke="#1a1a1a">150</text>
<line x1="166.8" y1="623.9" x2="166.8" y2="626.6" stroke="#2b2b2b" stroke-width="1.0"/>
<text x="166.8" y="636.1" text-anchor="middle" font-size="8.1" fill="#1a1a1a" stroke="#1a1a1a">200</text>
<text transform="translate(108.5 524.2) scale(0.9717 1)" text-anchor="start" font-size="7.6" fill="#1a1a1a" stroke="#1a1a1a">(Log-rank p = .2)</text>
<line x1="40.2" y1="607.4" x2="52.3" y2="607.4" stroke="#c8102e" stroke-width="1.25"/>
<line x1="40.2" y1="616.6" x2="52.3" y2="616.6" stroke="#2f6aa6" stroke-width="1.25"/>
<text transform="translate(56.2 609.6) scale(0.9911 1)" text-anchor="start" font-size="7.2" fill="#222" stroke="#222" font-style="italic" style="stroke-width:0.02px">Inv(16) AML</text>
<text transform="translate(55.9 618.8) scale(0.9653 1)" text-anchor="start" font-size="7.2" fill="#222" stroke="#222" font-style="italic" style="stroke-width:0.02px">mDDX41-AML</text>
<text transform="translate(83.7 648.7) scale(0.7303 1)" text-anchor="start" font-size="8.6" fill="#1a1a1a" stroke="#1a1a1a" style="stroke-width:0.3px">OS (months)</text>
<text transform="translate(13.8 570) rotate(-90) scale(0.7436 1)" text-anchor="middle" font-size="8.6" fill="#1a1a1a" stroke="#1a1a1a" style="stroke-width:0.3px">Surviving</text>
<path d="M253.9 515.9H384V623.9" fill="none" stroke="#2b2b2b" stroke-width="1.2"/>
<line x1="252.7" y1="515.9" x2="300.6" y2="515.9" stroke="#2f6aa6" stroke-width="1.4"/>
<polyline points="253.9,515.9 254.5,515.9 254.5,518 255.3,518 255.3,519.5 256.8,519.5 256.8,527.8 259.3,527.8 259.3,532 260.1,532 260.1,536 261,536 261,540 262.3,540 262.3,544 264,544 264,548.5 264.5,548.5 264.5,552.2 265.7,552.2 265.7,556.4 268.9,556.4 268.9,560.4 270.4,560.4 270.4,564.5 271.6,564.5 271.6,568.8 292.3,568.8 292.3,576.9 320.9,576.9 320.9,588.6 378.7,588.6" fill="none" stroke="#c8102e" stroke-width="1.3" stroke-linejoin="miter"/>
<path d="M253.9 515.9V623.9H384" fill="none" stroke="#2b2b2b" stroke-width="1.35"/>
<line x1="251.3" y1="623.9" x2="253.9" y2="623.9" stroke="#2b2b2b" stroke-width="1.0"/>
<text x="248.3" y="626.55" text-anchor="end" font-size="8.1" fill="#1a1a1a" stroke="#1a1a1a">0.0</text>
<line x1="251.3" y1="602.3" x2="253.9" y2="602.3" stroke="#2b2b2b" stroke-width="1.0"/>
<text x="248.3" y="604.95" text-anchor="end" font-size="8.1" fill="#1a1a1a" stroke="#1a1a1a">0.2</text>
<line x1="251.3" y1="580.7" x2="253.9" y2="580.7" stroke="#2b2b2b" stroke-width="1.0"/>
<text x="248.3" y="583.35" text-anchor="end" font-size="8.1" fill="#1a1a1a" stroke="#1a1a1a">0.4</text>
<line x1="251.3" y1="559.1" x2="253.9" y2="559.1" stroke="#2b2b2b" stroke-width="1.0"/>
<text x="248.3" y="561.75" text-anchor="end" font-size="8.1" fill="#1a1a1a" stroke="#1a1a1a">0.6</text>
<line x1="251.3" y1="537.5" x2="253.9" y2="537.5" stroke="#2b2b2b" stroke-width="1.0"/>
<text x="248.3" y="540.15" text-anchor="end" font-size="8.1" fill="#1a1a1a" stroke="#1a1a1a">0.8</text>
<line x1="251.3" y1="515.9" x2="253.9" y2="515.9" stroke="#2b2b2b" stroke-width="1.0"/>
<text x="248.3" y="518.55" text-anchor="end" font-size="8.1" fill="#1a1a1a" stroke="#1a1a1a">1.0</text>
<line x1="253.9" y1="623.9" x2="253.9" y2="626.6" stroke="#2b2b2b" stroke-width="1.0"/>
<text x="253.9" y="636.1" text-anchor="middle" font-size="8.1" fill="#1a1a1a" stroke="#1a1a1a">0</text>
<line x1="270.16" y1="623.9" x2="270.16" y2="626.6" stroke="#2b2b2b" stroke-width="1.0"/>
<text x="270.16" y="636.1" text-anchor="middle" font-size="8.1" fill="#1a1a1a" stroke="#1a1a1a">20</text>
<line x1="286.43" y1="623.9" x2="286.43" y2="626.6" stroke="#2b2b2b" stroke-width="1.0"/>
<text x="286.43" y="636.1" text-anchor="middle" font-size="8.1" fill="#1a1a1a" stroke="#1a1a1a">40</text>
<line x1="302.69" y1="623.9" x2="302.69" y2="626.6" stroke="#2b2b2b" stroke-width="1.0"/>
<text x="302.69" y="636.1" text-anchor="middle" font-size="8.1" fill="#1a1a1a" stroke="#1a1a1a">60</text>
<line x1="318.95" y1="623.9" x2="318.95" y2="626.6" stroke="#2b2b2b" stroke-width="1.0"/>
<text x="318.95" y="636.1" text-anchor="middle" font-size="8.1" fill="#1a1a1a" stroke="#1a1a1a">80</text>
<line x1="335.21" y1="623.9" x2="335.21" y2="626.6" stroke="#2b2b2b" stroke-width="1.0"/>
<text x="335.21" y="636.1" text-anchor="middle" font-size="8.1" fill="#1a1a1a" stroke="#1a1a1a">100</text>
<line x1="351.48" y1="623.9" x2="351.48" y2="626.6" stroke="#2b2b2b" stroke-width="1.0"/>
<text x="351.48" y="636.1" text-anchor="middle" font-size="8.1" fill="#1a1a1a" stroke="#1a1a1a">120</text>
<line x1="367.74" y1="623.9" x2="367.74" y2="626.6" stroke="#2b2b2b" stroke-width="1.0"/>
<text x="367.74" y="636.1" text-anchor="middle" font-size="8.1" fill="#1a1a1a" stroke="#1a1a1a">140</text>
<line x1="384" y1="623.9" x2="384" y2="626.6" stroke="#2b2b2b" stroke-width="1.0"/>
<text x="384" y="636.1" text-anchor="middle" font-size="8.1" fill="#1a1a1a" stroke="#1a1a1a">160</text>
<text transform="translate(316.8 524.2) scale(0.9838 1)" text-anchor="start" font-size="7.6" fill="#1a1a1a" stroke="#1a1a1a">(Log-rank p = .024)</text>
<line x1="257.4" y1="607.4" x2="269.5" y2="607.4" stroke="#c8102e" stroke-width="1.25"/>
<line x1="257.4" y1="616.6" x2="269.5" y2="616.6" stroke="#2f6aa6" stroke-width="1.25"/>
<text transform="translate(273.4 609.6) scale(1.0228 1)" text-anchor="start" font-size="7.2" fill="#222" stroke="#222" font-style="italic" style="stroke-width:0.02px">t(8;21) AML</text>
<text transform="translate(273.1 618.8) scale(0.9653 1)" text-anchor="start" font-size="7.2" fill="#222" stroke="#222" font-style="italic" style="stroke-width:0.02px">mDDX41-AML</text>
<text transform="translate(300.3 648.7) scale(0.7303 1)" text-anchor="start" font-size="8.6" fill="#1a1a1a" stroke="#1a1a1a" style="stroke-width:0.3px">OS (months)</text>
<text transform="translate(231.1 570) rotate(-90) scale(0.7436 1)" text-anchor="middle" font-size="8.6" fill="#1a1a1a" stroke="#1a1a1a" style="stroke-width:0.3px">Surviving</text>
</svg>
</body></html>
